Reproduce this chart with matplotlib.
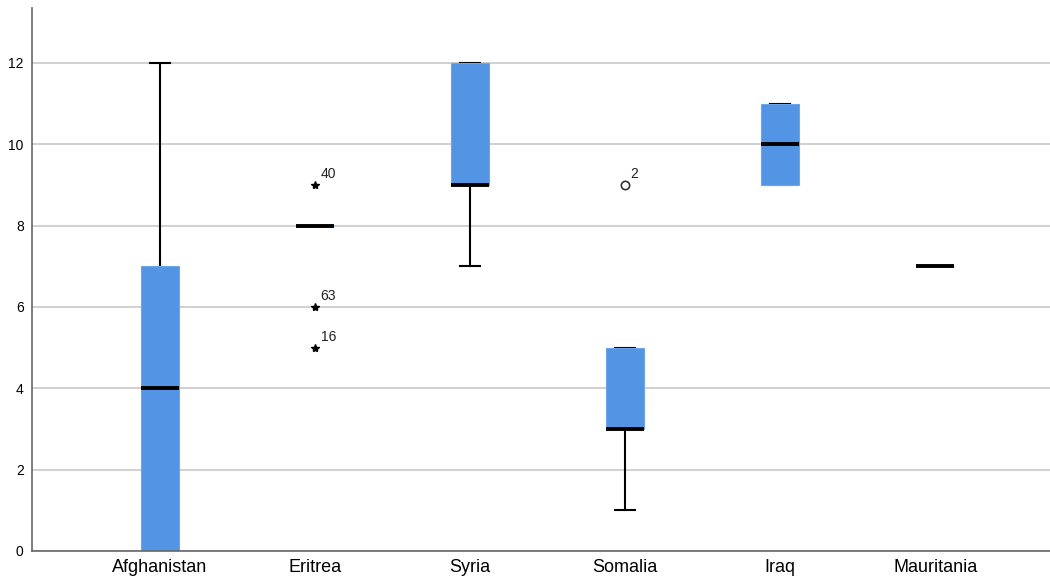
import matplotlib
matplotlib.use('Agg')
from matplotlib.pyplot import figure, rcParams

countries = ['Afghanistan', 'Eritrea', 'Syria', 'Somalia', 'Iraq', 'Mauritania']
whis_lo = [0, 8, 7, 1, 9, 7]
q1 = [0, 8, 9, 3, 9, 7]
median = [4, 8, 9, 3, 10, 7]
q3 = [7, 8, 12, 5, 11, 7]
whis_hi = [12, 8, 12, 5, 11, 7]

# outliers: (country index, value, case label, marker)
outliers = [
    (1, 9, '40', '*'),
    (1, 6, '63', '*'),
    (1, 5, '16', '*'),
    (3, 9, '2', 'o'),
]

box_color = '#5394E4'

rcParams['font.family'] = 'Liberation Sans'

fig = figure(figsize=(10.5, 5.86), dpi=100)
ax = fig.add_axes([32 / 1050, 1 - 551 / 586, 1 - 32 / 1050, (551 - 8) / 586])

stats = []
for i, name in enumerate(countries):
    stats.append({
        'label': name, 'whislo': whis_lo[i], 'q1': q1[i], 'med': median[i],
        'q3': q3[i], 'whishi': whis_hi[i], 'fliers': [],
    })

bp = ax.bxp(stats, positions=range(len(countries)), widths=0.245, patch_artist=True,
            showfliers=False,
            boxprops=dict(facecolor=box_color, edgecolor='#6FA6EA', linewidth=0.8),
            medianprops=dict(color='black', linewidth=2.8, solid_capstyle='butt'),
            whiskerprops=dict(color='black', linewidth=1.5),
            capprops=dict(color='black', linewidth=1.5),
            capwidths=0.13)
# caps sit behind the boxes, as in the original
for b in bp['boxes']:
    b.set_zorder(3)
for c in bp['caps'] + bp['whiskers']:
    c.set_zorder(2)
for m in bp['medians']:
    m.set_zorder(4)

for idx, val, lab, mk in outliers:
    if mk == '*':
        ax.plot(idx, val, marker=mk, color='black', markersize=6, linestyle='none', zorder=4)
    else:
        ax.plot(idx, val, marker=mk, markerfacecolor='none', markeredgecolor='#333333',
                markersize=6, markeredgewidth=1.2, linestyle='none', zorder=4)
    ax.annotate(lab, (idx, val), xytext=(4, 5), textcoords='offset points',
                fontsize=10, color='#222222')

ax.set_xlim(-0.826, 5.74)
ax.set_ylim(0, 13.35)
ax.set_yticks(range(0, 13, 2))
ax.yaxis.grid(True, color='#C8C8C8', linewidth=1.2)
ax.set_axisbelow(True)
ax.tick_params(length=0)
ax.tick_params(axis='x', labelsize=13, pad=6)
ax.tick_params(axis='y', labelsize=10, pad=6)
for s in ['top', 'right']:
    ax.spines[s].set_visible(False)
for s in ['left', 'bottom']:
    ax.spines[s].set_color('#666666')
    ax.spines[s].set_linewidth(1.2)
    ax.spines[s].set_zorder(5)

fig.savefig('out.png', dpi=100)
